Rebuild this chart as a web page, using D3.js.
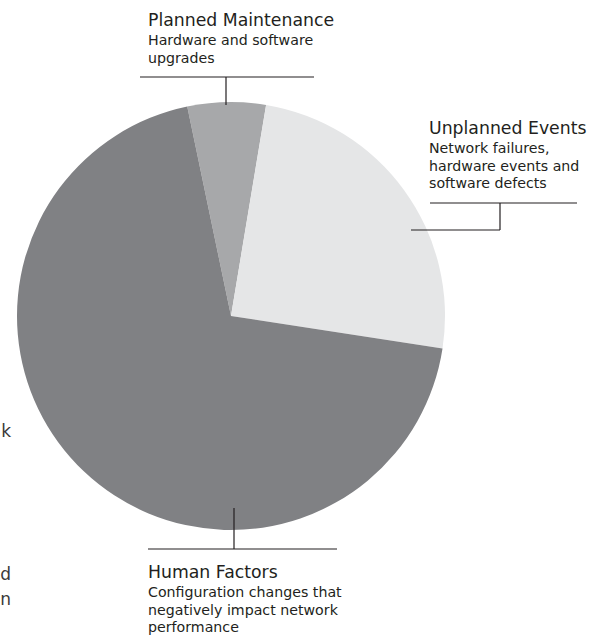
<!DOCTYPE html>
<html>
<head>
<meta charset="utf-8">
<script src="https://cdn.jsdelivr.net/npm/d3@7"></script>
<style>
  body { margin: 0; background: #fff; }
  text { font-family: "DejaVu Sans", sans-serif; fill: #231f20; }
</style>
</head>
<body>
<div id="pie"></div>
<script>
"use strict"

// slices, in clockwise order starting just left of 12 o'clock
const categories = ["Planned Maintenance", "Unplanned Events", "Human Factors"];
const shares = [5.9, 24.8, 69.3];
const descriptions = [
  ["Hardware and software", "upgrades"],
  ["Network failures,", "hardware events and", "software defects"],
  ["Configuration changes that", "negatively impact network", "performance"]
];
const sliceColors = ["#a7a8aa", "#e5e6e7", "#808184"];
// cut-off letters from the neighbouring panel on the left edge
const strayLetters = ["k", "d", "n"];

const width = 603, height = 637;
const cx = 231, cy = 316, radius = 214;

var svg = d3.select("#pie")
  .append("svg")
  .attr("width", width)
  .attr("height", height);

var pie = d3.pie()
  .sort(null)
  .startAngle(-11.8 * Math.PI / 180)
  .endAngle((360 - 11.8) * Math.PI / 180)
  .value(function(d) { return d; });

var arc = d3.arc().innerRadius(0).outerRadius(radius);

var arcs = pie(shares);

svg.append("g")
  .attr("transform", "translate(" + cx + "," + cy + ")")
  .selectAll("path")
  .data(arcs)
  .enter()
  .append("path")
    .attr("d", arc)
    .style("fill", function(d, i) { return sliceColors[i]; });

// label layout: title position, leader lines
var labels = [
  {x: 148, y: 26, lines: [[140, 77, 314, 77], [226, 77, 226, 105]]},
  {x: 429, y: 134, lines: [[430, 203, 577, 203], [500, 203, 500, 230], [411, 230, 500, 230]]},
  {x: 148, y: 578, lines: [[234, 508, 234, 549], [148, 549, 337, 549]]}
];

labels.forEach(function(l, i) {
  l.lines.forEach(function(s) {
    svg.append("line")
      .attr("x1", s[0]).attr("y1", s[1])
      .attr("x2", s[2]).attr("y2", s[3])
      .style("stroke", "#231f20")
      .style("stroke-width", 1.2);
  });
  svg.append("text")
    .attr("x", l.x)
    .attr("y", l.y)
    .style("font-size", "17.3px")
    .text(categories[i]);
  descriptions[i].forEach(function(t, j) {
    svg.append("text")
      .attr("x", l.x)
      .attr("y", l.y + 19 + j * 17.5)
      .style("font-size", "14.2px")
      .text(t);
  });
});

var strayY = [437, 580, 605];
strayLetters.forEach(function(c, i) {
  svg.append("text")
    .attr("x", 11)
    .attr("y", strayY[i])
    .attr("text-anchor", "end")
    .style("font-size", "17px")
    .style("fill", "#3a3a3a")
    .text(c);
});
</script>
</body>
</html>
